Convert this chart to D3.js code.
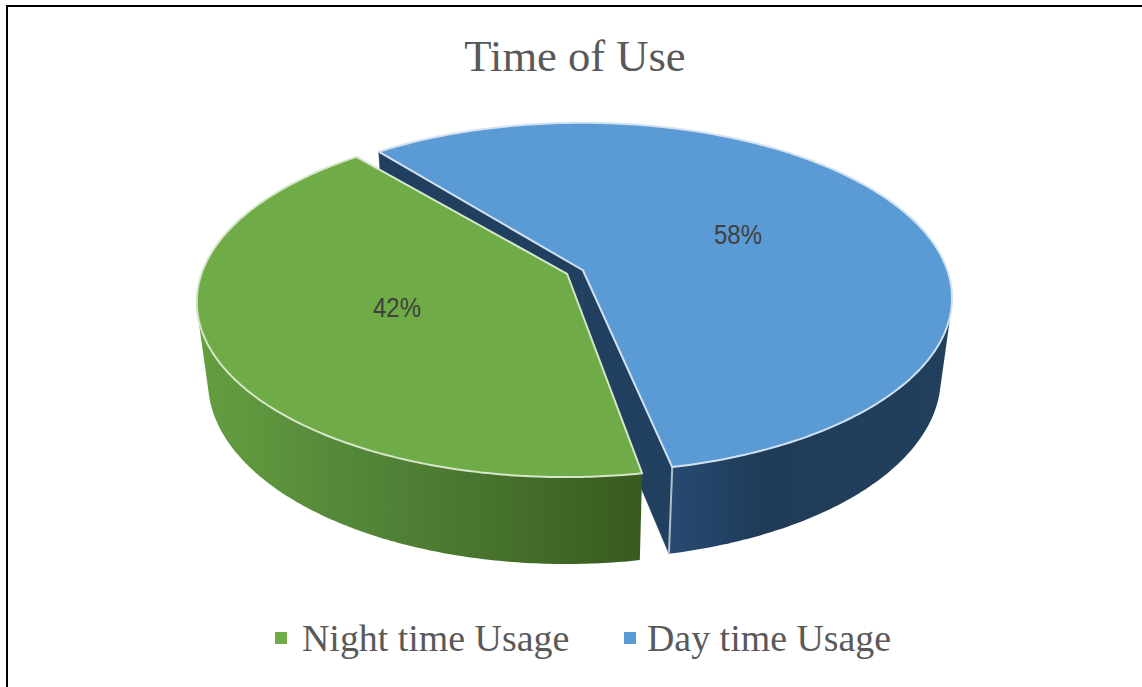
<!DOCTYPE html>
<html>
<head>
<meta charset="utf-8">
<style>
  html, body { margin: 0; padding: 0; background: #fff; }
  svg { display: block; }
</style>
<script src="https://cdn.jsdelivr.net/npm/d3@7"></script>
</head>
<body>
<svg id="chart" width="1142" height="687"></svg>
<script>
const categories = ["Night time Usage", "Day time Usage"];
const values = [42, 58];
const topColors = ["#6fab46", "#5b9bd5"];
const wallStops = [
  ["#649f40", "#55883a", "#47722c", "#375a1e"],
  ["#284a72", "#1f3b58", "#213e5a", "#21405d"]
];

const svg = d3.select("#chart");

// Border around the chart area
svg.append("rect").attr("x", 7).attr("y", 6)
  .attr("width", 1140).attr("height", 690)
  .attr("fill", "#fff").attr("stroke", "#000").attr("stroke-width", 2);

// Perspective camera for the tilted disc
const cam = { cx: 575, cy: 272, bx: 365, ay: 171, dz: 82, p: 0.156, q: 0.03, gap: 0.024 };
function project(x, y, z) {
  const w = 1 - cam.p * y + cam.q * z;
  return [cam.cx + cam.bx * x / w, cam.cy + (cam.ay * y + cam.dz * z) / w];
}

const startDeg = 169;
const padDeg = 1.6;
const pie = d3.pie().sort(null)
  .startAngle(startDeg * Math.PI / 180)
  .endAngle((startDeg + 360) * Math.PI / 180)
  .padAngle(padDeg * Math.PI / 180);
const slices = pie(values);

const line = d3.line();
const STEPS = 240;

function sliceGeometry(s) {
  const mid = (s.startAngle + s.endAngle) / 2;
  const ox = cam.gap * Math.sin(mid), oy = -cam.gap * Math.cos(mid);
  const a0 = s.startAngle + s.padAngle / 2, a1 = s.endAngle - s.padAngle / 2;
  const rim = d3.range(STEPS + 1).map(i => a0 + (a1 - a0) * i / STEPS);
  const pt = (a, z) => project(ox + Math.sin(a), oy - Math.cos(a), z);
  const centre = z => project(ox, oy, z);
  return { rim, pt, centre };
}

const defs = svg.append("defs");

function drawSlice(s, i) {
  const g = sliceGeometry(s);
  const layer = svg.append("g").attr("class", "slice-" + i);

  // Flat radial cut faces, seen only on the day-time slice
  const cutColor = "#21405f";
  if (i === 1) {
    [g.rim[0], g.rim[STEPS]].forEach(a => {
      layer.append("path")
        .attr("d", line([g.centre(0), g.pt(a, 0), g.pt(a, 1), g.centre(1)]) + "Z")
        .attr("fill", cutColor).attr("stroke", cutColor).attr("stroke-width", 0.5);
    });
  }

  // Outer wall, shaded left to right. The hull of both rims gives the silhouette;
  // whatever it covers above the rim is hidden by the top face drawn afterwards.
  const frontRim = g.rim.filter(a => -Math.cos(a) > -0.3);
  const wallPts = frontRim.map(a => g.pt(a, 0)).concat(frontRim.map(a => g.pt(a, 1)));
  const xExt = d3.extent(wallPts, p => p[0]);
  const grad = defs.append("linearGradient").attr("id", "wall-" + i)
    .attr("gradientUnits", "userSpaceOnUse")
    .attr("x1", xExt[0]).attr("x2", xExt[1]).attr("y1", 0).attr("y2", 0);
  wallStops[i].forEach((c, n) => {
    grad.append("stop").attr("offset", n / (wallStops[i].length - 1)).attr("stop-color", c);
  });
  layer.append("path")
    .attr("d", line(d3.polygonHull(wallPts)) + "Z")
    .attr("fill", `url(#wall-${i})`);

  // Highlight down the exposed front corner of the day-time wall
  if (i === 1) {
    const a = g.rim[STEPS];
    layer.append("path").attr("d", line([g.pt(a, 0), g.pt(a, 1)]))
      .attr("stroke", "#aebfce").attr("stroke-width", 2).attr("fill", "none");
  }

  // Top face
  const top = [g.centre(0)].concat(g.rim.map(a => g.pt(a, 0)));
  layer.append("path")
    .attr("d", line(top) + "Z")
    .attr("fill", topColors[i])
    .attr("stroke", i === 0 ? "#d6e6cb" : "#d3e2f0")
    .attr("stroke-width", 2).attr("stroke-linejoin", "round");
}

// Day-time slice sits behind the night-time one
drawSlice(slices[1], 1);
drawSlice(slices[0], 0);

// Value labels
const pctLabels = values.map(v => v + "%");
const labelAnchors = [[397, 317], [738, 244]];
svg.selectAll("text.pct").data(pctLabels).join("text")
  .attr("class", "pct")
  .attr("x", (d, i) => labelAnchors[i][0])
  .attr("y", (d, i) => labelAnchors[i][1])
  .attr("text-anchor", "middle")
  .attr("font-family", "'Liberation Sans', sans-serif")
  .attr("font-size", 27)
  .attr("textLength", 48)
  .attr("lengthAdjust", "spacingAndGlyphs")
  .attr("fill", "#404040")
  .text(d => d);

// Title
svg.append("text").attr("x", 575).attr("y", 71)
  .attr("text-anchor", "middle")
  .attr("font-family", "'Liberation Serif', serif")
  .attr("font-size", 44.6)
  .attr("fill", "#595959")
  .text("Time of Use");

// Legend
const legendX = [[275, 302], [624, 647]];
const legend = svg.selectAll("g.legend").data(categories).join("g").attr("class", "legend");
legend.append("rect")
  .attr("x", (d, i) => legendX[i][0]).attr("y", 632)
  .attr("width", 12).attr("height", 12)
  .attr("fill", (d, i) => topColors[i]);
legend.append("text")
  .attr("x", (d, i) => legendX[i][1]).attr("y", 651)
  .attr("font-family", "'Liberation Serif', serif")
  .attr("font-size", 37.9)
  .attr("fill", "#595959")
  .text(d => d);
</script>
</body>
</html>
